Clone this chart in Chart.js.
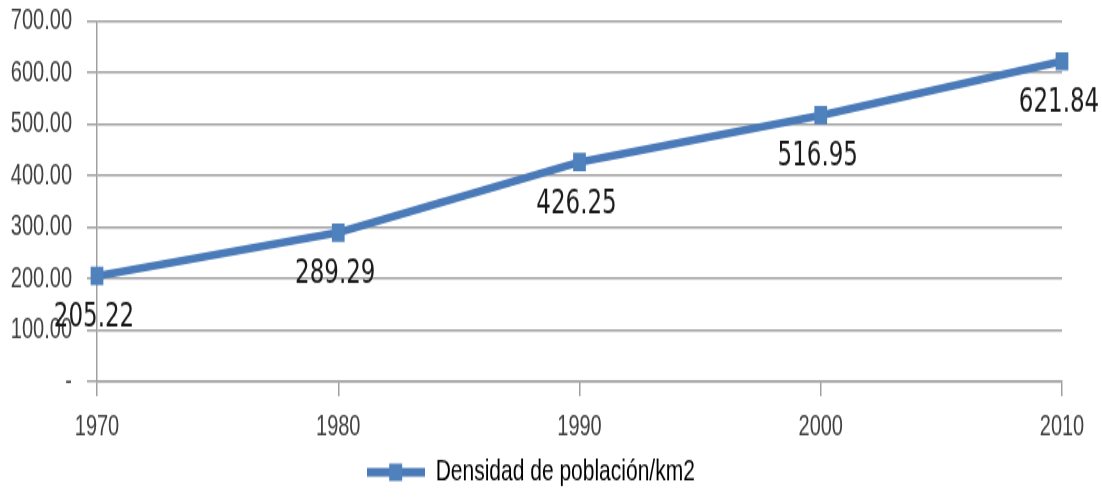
<!DOCTYPE html>
<html>
<head>
<meta charset="utf-8">
<script src="https://cdn.jsdelivr.net/npm/chart.js@4.4.1/dist/chart.umd.min.js"></script>
<style>
html,body{margin:0;padding:0;background:#fff;overflow:hidden;}
#wrap{width:1102px;height:502px;position:relative;}
#c{display:block;width:1102px;height:502px;}
</style>
</head>
<body>
<div id="wrap"><canvas id="c" width="1102" height="346" style="width:1102px;height:502px;"></canvas></div>
<script>
const categories = ['1970', '1980', '1990', '2000', '2010'];
const densidad = [205.22, 289.29, 426.25, 516.95, 621.84];
const seriesName = 'Densidad de población/km2';
const yTicks = [0, 100, 200, 300, 400, 500, 600, 700];

const LINE = '#4a7ab8';
const MARK = '#4f81bd';
const AXIS_FONT = "'Liberation Sans', Arial, sans-serif";
const LABEL_FONT = "'DejaVu Sans', sans-serif";

// legend symbol: line with square marker
const sym = document.createElement('canvas');
sym.width = 58; sym.height = 14;
(function(){
  const g = sym.getContext('2d');
  g.fillStyle = LINE;
  g.fillRect(0, 4, 58, 6);
  g.fillStyle = MARK;
  g.fillRect(22, 1, 13, 12);
})();

const dataLabels = {
  id: 'dataLabels',
  afterDatasetsDraw(chart) {
    const ctx = chart.ctx;
    const meta = chart.getDatasetMeta(0);
    ctx.save();
    ctx.font = "23px " + LABEL_FONT;
    ctx.fillStyle = '#1a1a1a';
    ctx.textAlign = 'center';
    ctx.textBaseline = 'middle';
    meta.data.forEach((pt, i) => {
      ctx.fillText(densidad[i].toFixed(2), pt.x - 3, pt.y + 29);
    });
    ctx.restore();
  }
};

new Chart(document.getElementById('c'), {
  type: 'line',
  data: {
    labels: categories,
    datasets: [{
      label: seriesName,
      data: densidad,
      borderColor: LINE,
      borderWidth: 5.5,
      backgroundColor: MARK,
      pointStyle: 'rect',
      pointRadius: 9,
      pointBorderWidth: 0,
      pointBackgroundColor: MARK,
      tension: 0,
      fill: false
    }]
  },
  options: {
    responsive: false,
    animation: false,
    devicePixelRatio: 1,
    layout: { padding: { top: 14.5, right: 40, left: 0, bottom: 0 } },
    plugins: {
      tooltip: { enabled: false },
      legend: {
        position: 'bottom',
        labels: {
          usePointStyle: true,
          pointStyleWidth: 58,
          boxHeight: 14,
          padding: 8,
          color: '#333',
          font: { family: AXIS_FONT, size: 21 },
          generateLabels(chart) {
            return [{ text: seriesName, pointStyle: sym, fillStyle: MARK, strokeStyle: LINE, lineWidth: 0, datasetIndex: 0, hidden: false }];
          }
        }
      }
    },
    scales: {
      x: {
        type: 'category',
        offset: false,
        grid: { display: true, drawOnChartArea: false, drawTicks: true, tickLength: 10, color: '#a0a0a0', lineWidth: 1.5 },
        border: { display: true, color: '#a0a0a0', width: 1.5 },
        ticks: { color: '#404040', font: { family: AXIS_FONT, size: 20 }, padding: 9, maxRotation: 0 },
        afterFit(s) { s.height = 44; s.paddingLeft = 0; s.paddingRight = 0; }
      },
      y: {
        min: 0, max: 700,
        afterBuildTicks(s) { s.ticks = yTicks.map(v => ({ value: v })); },
        grid: { color: '#a0a0a0', lineWidth: 1.5, drawTicks: true, tickLength: 10 },
        border: { display: true, color: '#a0a0a0', width: 1.5 },
        ticks: {
          color: '#404040',
          font: { family: AXIS_FONT, size: 20 },
          padding: 15,
          callback: v => v === 0 ? '-' : Number(v).toFixed(2)
        },
        afterFit(s) { s.width = 97; s.paddingTop = 0; s.paddingBottom = 0; }
      }
    }
  },
  plugins: [dataLabels]
});
</script>
</body>
</html>
